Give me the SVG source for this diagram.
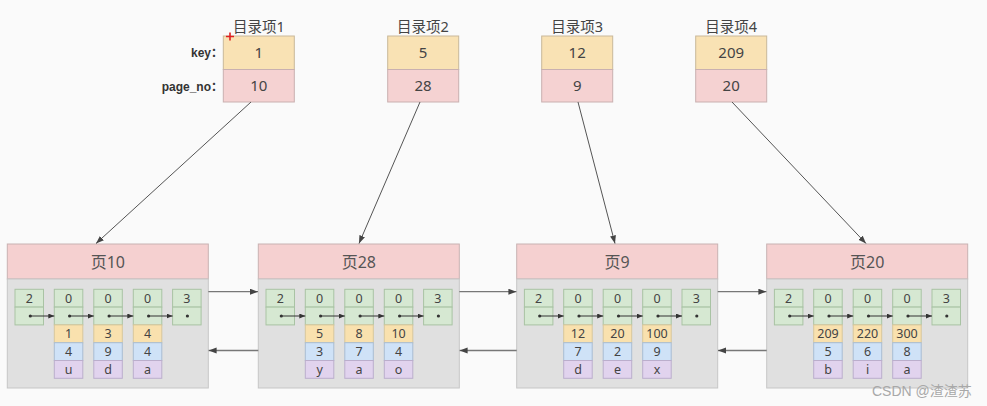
<svg xmlns="http://www.w3.org/2000/svg" width="987" height="406" viewBox="0 0 987 406">
<style>
text{font-family:"Noto Sans","Noto Sans CJK SC",sans-serif;fill:#444;text-anchor:middle}
.lbl{font-size:14.5px}
.side{font-family:"Liberation Sans","Noto Sans CJK SC",sans-serif;font-weight:bold;font-size:12px;text-anchor:end;fill:#333}
.dv{font-size:15px}
.pt{font-size:16px;fill:#555}
.rv{font-size:12.5px}
.key{fill:#f9e2b4;stroke:#c9b89a;stroke-width:1}
.pno{fill:#f5d2d2;stroke:#c9b0b0;stroke-width:1}
.hdr{fill:#f5d0d0;stroke:#c8b2b2;stroke-width:1}
.body{fill:#e0e0e0;stroke:#c6c6c6;stroke-width:1}
.g{fill:#d6e8d2;stroke:#a9c3a4;stroke-width:1}
.o{fill:#f9e1ae;stroke:#d8c79c;stroke-width:1}
.b{fill:#cfe2f7;stroke:#a9bdd3;stroke-width:1}
.p{fill:#e1d3ee;stroke:#bbaecc;stroke-width:1}
.dot{fill:#333}
.ln{stroke:#555;stroke-width:1;fill:none}
.lk{stroke:#777;stroke-width:1.3;fill:none}
.ptr{stroke:#333;stroke-width:1;fill:none}
</style>
<defs>
<marker id="ah" markerUnits="userSpaceOnUse" markerWidth="9" markerHeight="7" refX="8" refY="3" orient="auto"><path d="M0,0 L8,3 L0,6 z" fill="#444"/></marker>
<marker id="as" markerUnits="userSpaceOnUse" markerWidth="7" markerHeight="6" refX="6" refY="2.5" orient="auto"><path d="M0,0 L6,2.5 L0,5 z" fill="#333"/></marker>
</defs>
<rect x="0" y="0" width="987" height="406" fill="#fafafa"/>

<g id="dir1">
<text class="lbl" x="258.8" y="32">目录项1</text>
<text class="side" x="223" y="56.5">key：</text>
<text class="side" x="223" y="90.5">page_no：</text>
<rect class="key" x="223.3" y="36" width="71" height="33.5"/>
<rect class="pno" x="223.3" y="69.5" width="71" height="32.5"/>
<text class="dv" x="258.8" y="58">1</text>
<text class="dv" x="258.8" y="91">10</text>
</g>
<g id="dir2">
<text class="lbl" x="423" y="32">目录项2</text>
<rect class="key" x="387.7" y="36" width="71" height="33.5"/>
<rect class="pno" x="387.7" y="69.5" width="71" height="32.5"/>
<text class="dv" x="423" y="58">5</text>
<text class="dv" x="423" y="91">28</text>
</g>
<g id="dir3">
<text class="lbl" x="577.2" y="32">目录项3</text>
<rect class="key" x="541.7" y="36" width="71" height="33.5"/>
<rect class="pno" x="541.7" y="69.5" width="71" height="32.5"/>
<text class="dv" x="577.2" y="58">12</text>
<text class="dv" x="577.2" y="91">9</text>
</g>
<g id="dir4">
<text class="lbl" x="731.2" y="32">目录项4</text>
<rect class="key" x="695.7" y="36" width="71" height="33.5"/>
<rect class="pno" x="695.7" y="69.5" width="71" height="32.5"/>
<text class="dv" x="731.2" y="58">209</text>
<text class="dv" x="731.2" y="91">20</text>
</g>

<g id="page10">
<rect class="hdr" x="7.3" y="244" width="201" height="35"/>
<rect class="body" x="7.3" y="279" width="201" height="109"/>
<text class="pt" x="107.8" y="267.5">页10</text>
<rect class="g" x="15" y="289.3" width="28.5" height="17.8"/><rect class="g" x="15" y="307.1" width="28.5" height="17.8"/>
<rect class="g" x="54.3" y="289.3" width="28.5" height="17.8"/><rect class="g" x="54.3" y="307.1" width="28.5" height="17.8"/>
<rect class="g" x="93.8" y="289.3" width="28.5" height="17.8"/><rect class="g" x="93.8" y="307.1" width="28.5" height="17.8"/>
<rect class="g" x="133.3" y="289.3" width="28.5" height="17.8"/><rect class="g" x="133.3" y="307.1" width="28.5" height="17.8"/>
<rect class="g" x="172.6" y="289.3" width="28.5" height="17.8"/><rect class="g" x="172.6" y="307.1" width="28.5" height="17.8"/>
<rect class="o" x="54.3" y="324.9" width="28.5" height="17.8"/><rect class="b" x="54.3" y="342.7" width="28.5" height="17.8"/><rect class="p" x="54.3" y="360.5" width="28.5" height="17.8"/>
<rect class="o" x="93.8" y="324.9" width="28.5" height="17.8"/><rect class="b" x="93.8" y="342.7" width="28.5" height="17.8"/><rect class="p" x="93.8" y="360.5" width="28.5" height="17.8"/>
<rect class="o" x="133.3" y="324.9" width="28.5" height="17.8"/><rect class="b" x="133.3" y="342.7" width="28.5" height="17.8"/><rect class="p" x="133.3" y="360.5" width="28.5" height="17.8"/>
<text class="rv" x="29.3" y="302.6">2</text><text class="rv" x="68.6" y="302.6">0</text><text class="rv" x="108.1" y="302.6">0</text><text class="rv" x="147.6" y="302.6">0</text><text class="rv" x="186.9" y="302.6">3</text>
<text class="rv" x="68.6" y="338.3">1</text><text class="rv" x="108.1" y="338.3">3</text><text class="rv" x="147.6" y="338.3">4</text>
<text class="rv" x="68.6" y="356.1">4</text><text class="rv" x="108.1" y="356.1">9</text><text class="rv" x="147.6" y="356.1">4</text>
<text class="rv" x="68.6" y="373.6">u</text><text class="rv" x="108.1" y="373.6">d</text><text class="rv" x="147.6" y="373.6">a</text>
<circle class="dot" cx="30.3" cy="316" r="1.6"/><circle class="dot" cx="69.6" cy="316" r="1.6"/><circle class="dot" cx="109.1" cy="316" r="1.6"/><circle class="dot" cx="148.6" cy="316" r="1.6"/><circle class="dot" cx="187.4" cy="316" r="1.6"/>
</g>

<g id="page28">
<rect class="hdr" x="258.3" y="244" width="201" height="35"/>
<rect class="body" x="258.3" y="279" width="201" height="109"/>
<text class="pt" x="358.8" y="267.5">页28</text>
<rect class="g" x="266" y="289.3" width="28.5" height="17.8"/><rect class="g" x="266" y="307.1" width="28.5" height="17.8"/>
<rect class="g" x="305.3" y="289.3" width="28.5" height="17.8"/><rect class="g" x="305.3" y="307.1" width="28.5" height="17.8"/>
<rect class="g" x="344.8" y="289.3" width="28.5" height="17.8"/><rect class="g" x="344.8" y="307.1" width="28.5" height="17.8"/>
<rect class="g" x="384.3" y="289.3" width="28.5" height="17.8"/><rect class="g" x="384.3" y="307.1" width="28.5" height="17.8"/>
<rect class="g" x="423.6" y="289.3" width="28.5" height="17.8"/><rect class="g" x="423.6" y="307.1" width="28.5" height="17.8"/>
<rect class="o" x="305.3" y="324.9" width="28.5" height="17.8"/><rect class="b" x="305.3" y="342.7" width="28.5" height="17.8"/><rect class="p" x="305.3" y="360.5" width="28.5" height="17.8"/>
<rect class="o" x="344.8" y="324.9" width="28.5" height="17.8"/><rect class="b" x="344.8" y="342.7" width="28.5" height="17.8"/><rect class="p" x="344.8" y="360.5" width="28.5" height="17.8"/>
<rect class="o" x="384.3" y="324.9" width="28.5" height="17.8"/><rect class="b" x="384.3" y="342.7" width="28.5" height="17.8"/><rect class="p" x="384.3" y="360.5" width="28.5" height="17.8"/>
<text class="rv" x="280.3" y="302.6">2</text><text class="rv" x="319.6" y="302.6">0</text><text class="rv" x="359.1" y="302.6">0</text><text class="rv" x="398.6" y="302.6">0</text><text class="rv" x="437.9" y="302.6">3</text>
<text class="rv" x="319.6" y="338.3">5</text><text class="rv" x="359.1" y="338.3">8</text><text class="rv" x="398.6" y="338.3">10</text>
<text class="rv" x="319.6" y="356.1">3</text><text class="rv" x="359.1" y="356.1">7</text><text class="rv" x="398.6" y="356.1">4</text>
<text class="rv" x="319.6" y="373.6">y</text><text class="rv" x="359.1" y="373.6">a</text><text class="rv" x="398.6" y="373.6">o</text>
<circle class="dot" cx="281.3" cy="316" r="1.6"/><circle class="dot" cx="320.6" cy="316" r="1.6"/><circle class="dot" cx="360.1" cy="316" r="1.6"/><circle class="dot" cx="399.6" cy="316" r="1.6"/><circle class="dot" cx="438.4" cy="316" r="1.6"/>
</g>

<g id="page9">
<rect class="hdr" x="516.7" y="244" width="201" height="35"/>
<rect class="body" x="516.7" y="279" width="201" height="109"/>
<text class="pt" x="617.2" y="267.5">页9</text>
<rect class="g" x="524.4" y="289.3" width="28.5" height="17.8"/><rect class="g" x="524.4" y="307.1" width="28.5" height="17.8"/>
<rect class="g" x="563.7" y="289.3" width="28.5" height="17.8"/><rect class="g" x="563.7" y="307.1" width="28.5" height="17.8"/>
<rect class="g" x="603.2" y="289.3" width="28.5" height="17.8"/><rect class="g" x="603.2" y="307.1" width="28.5" height="17.8"/>
<rect class="g" x="642.7" y="289.3" width="28.5" height="17.8"/><rect class="g" x="642.7" y="307.1" width="28.5" height="17.8"/>
<rect class="g" x="682" y="289.3" width="28.5" height="17.8"/><rect class="g" x="682" y="307.1" width="28.5" height="17.8"/>
<rect class="o" x="563.7" y="324.9" width="28.5" height="17.8"/><rect class="b" x="563.7" y="342.7" width="28.5" height="17.8"/><rect class="p" x="563.7" y="360.5" width="28.5" height="17.8"/>
<rect class="o" x="603.2" y="324.9" width="28.5" height="17.8"/><rect class="b" x="603.2" y="342.7" width="28.5" height="17.8"/><rect class="p" x="603.2" y="360.5" width="28.5" height="17.8"/>
<rect class="o" x="642.7" y="324.9" width="28.5" height="17.8"/><rect class="b" x="642.7" y="342.7" width="28.5" height="17.8"/><rect class="p" x="642.7" y="360.5" width="28.5" height="17.8"/>
<text class="rv" x="538.7" y="302.6">2</text><text class="rv" x="578" y="302.6">0</text><text class="rv" x="617.5" y="302.6">0</text><text class="rv" x="657" y="302.6">0</text><text class="rv" x="696.3" y="302.6">3</text>
<text class="rv" x="578" y="338.3">12</text><text class="rv" x="617.5" y="338.3">20</text><text class="rv" x="657" y="338.3">100</text>
<text class="rv" x="578" y="356.1">7</text><text class="rv" x="617.5" y="356.1">2</text><text class="rv" x="657" y="356.1">9</text>
<text class="rv" x="578" y="373.6">d</text><text class="rv" x="617.5" y="373.6">e</text><text class="rv" x="657" y="373.6">x</text>
<circle class="dot" cx="539.7" cy="316" r="1.6"/><circle class="dot" cx="579" cy="316" r="1.6"/><circle class="dot" cx="618.5" cy="316" r="1.6"/><circle class="dot" cx="658" cy="316" r="1.6"/><circle class="dot" cx="696.8" cy="316" r="1.6"/>
</g>

<g id="page20">
<rect class="hdr" x="766.7" y="244" width="201" height="35"/>
<rect class="body" x="766.7" y="279" width="201" height="109"/>
<text class="pt" x="867.2" y="267.5">页20</text>
<rect class="g" x="774.4" y="289.3" width="28.5" height="17.8"/><rect class="g" x="774.4" y="307.1" width="28.5" height="17.8"/>
<rect class="g" x="813.7" y="289.3" width="28.5" height="17.8"/><rect class="g" x="813.7" y="307.1" width="28.5" height="17.8"/>
<rect class="g" x="853.2" y="289.3" width="28.5" height="17.8"/><rect class="g" x="853.2" y="307.1" width="28.5" height="17.8"/>
<rect class="g" x="892.7" y="289.3" width="28.5" height="17.8"/><rect class="g" x="892.7" y="307.1" width="28.5" height="17.8"/>
<rect class="g" x="932" y="289.3" width="28.5" height="17.8"/><rect class="g" x="932" y="307.1" width="28.5" height="17.8"/>
<rect class="o" x="813.7" y="324.9" width="28.5" height="17.8"/><rect class="b" x="813.7" y="342.7" width="28.5" height="17.8"/><rect class="p" x="813.7" y="360.5" width="28.5" height="17.8"/>
<rect class="o" x="853.2" y="324.9" width="28.5" height="17.8"/><rect class="b" x="853.2" y="342.7" width="28.5" height="17.8"/><rect class="p" x="853.2" y="360.5" width="28.5" height="17.8"/>
<rect class="o" x="892.7" y="324.9" width="28.5" height="17.8"/><rect class="b" x="892.7" y="342.7" width="28.5" height="17.8"/><rect class="p" x="892.7" y="360.5" width="28.5" height="17.8"/>
<text class="rv" x="788.7" y="302.6">2</text><text class="rv" x="828" y="302.6">0</text><text class="rv" x="867.5" y="302.6">0</text><text class="rv" x="907" y="302.6">0</text><text class="rv" x="946.3" y="302.6">3</text>
<text class="rv" x="828" y="338.3">209</text><text class="rv" x="867.5" y="338.3">220</text><text class="rv" x="907" y="338.3">300</text>
<text class="rv" x="828" y="356.1">5</text><text class="rv" x="867.5" y="356.1">6</text><text class="rv" x="907" y="356.1">8</text>
<text class="rv" x="828" y="373.6">b</text><text class="rv" x="867.5" y="373.6">i</text><text class="rv" x="907" y="373.6">a</text>
<circle class="dot" cx="789.7" cy="316" r="1.6"/><circle class="dot" cx="829" cy="316" r="1.6"/><circle class="dot" cx="868.5" cy="316" r="1.6"/><circle class="dot" cx="908" cy="316" r="1.6"/><circle class="dot" cx="946.8" cy="316" r="1.6"/>
</g>

<g id="connectors">
<line class="ln" x1="251" y1="102" x2="96" y2="243.5" marker-end="url(#ah)"/>
<line class="ln" x1="420" y1="102" x2="359" y2="243.5" marker-end="url(#ah)"/>
<line class="ln" x1="578" y1="102" x2="615" y2="243.5" marker-end="url(#ah)"/>
<line class="ln" x1="732" y1="102" x2="866" y2="243.5" marker-end="url(#ah)"/>
<line class="lk" x1="208.3" y1="291.7" x2="258" y2="291.7" marker-end="url(#ah)"/>
<line class="lk" x1="258.3" y1="350.5" x2="208.6" y2="350.5" marker-end="url(#ah)"/>
<line class="lk" x1="459.3" y1="291.7" x2="516.4" y2="291.7" marker-end="url(#ah)"/>
<line class="lk" x1="516.7" y1="350.5" x2="459.6" y2="350.5" marker-end="url(#ah)"/>
<line class="lk" x1="717.7" y1="291.7" x2="766.4" y2="291.7" marker-end="url(#ah)"/>
<line class="lk" x1="766.7" y1="350.5" x2="718" y2="350.5" marker-end="url(#ah)"/>
<line class="ptr" x1="30.3" y1="316" x2="54.3" y2="316" marker-end="url(#as)"/>
<line class="ptr" x1="69.6" y1="316" x2="93.8" y2="316" marker-end="url(#as)"/>
<line class="ptr" x1="109.1" y1="316" x2="133.3" y2="316" marker-end="url(#as)"/>
<line class="ptr" x1="148.6" y1="316" x2="172.6" y2="316" marker-end="url(#as)"/>
<line class="ptr" x1="281.3" y1="316" x2="305.3" y2="316" marker-end="url(#as)"/>
<line class="ptr" x1="320.6" y1="316" x2="344.8" y2="316" marker-end="url(#as)"/>
<line class="ptr" x1="360.1" y1="316" x2="384.3" y2="316" marker-end="url(#as)"/>
<line class="ptr" x1="399.6" y1="316" x2="423.6" y2="316" marker-end="url(#as)"/>
<line class="ptr" x1="539.7" y1="316" x2="563.7" y2="316" marker-end="url(#as)"/>
<line class="ptr" x1="579" y1="316" x2="603.2" y2="316" marker-end="url(#as)"/>
<line class="ptr" x1="618.5" y1="316" x2="642.7" y2="316" marker-end="url(#as)"/>
<line class="ptr" x1="658" y1="316" x2="682" y2="316" marker-end="url(#as)"/>
<line class="ptr" x1="789.7" y1="316" x2="813.7" y2="316" marker-end="url(#as)"/>
<line class="ptr" x1="829" y1="316" x2="853.2" y2="316" marker-end="url(#as)"/>
<line class="ptr" x1="868.5" y1="316" x2="892.7" y2="316" marker-end="url(#as)"/>
<line class="ptr" x1="908" y1="316" x2="932" y2="316" marker-end="url(#as)"/>
</g>

<path d="M226,36.5H234M230,32.5V40.5" stroke="#e02020" stroke-width="1.6" fill="none"/>
<text x="872" y="396" style="font-family:'Liberation Sans','Noto Sans CJK SC',sans-serif;font-size:14px;fill:#a8a8a8;text-anchor:start">CSDN @渣渣苏</text>
</svg>
